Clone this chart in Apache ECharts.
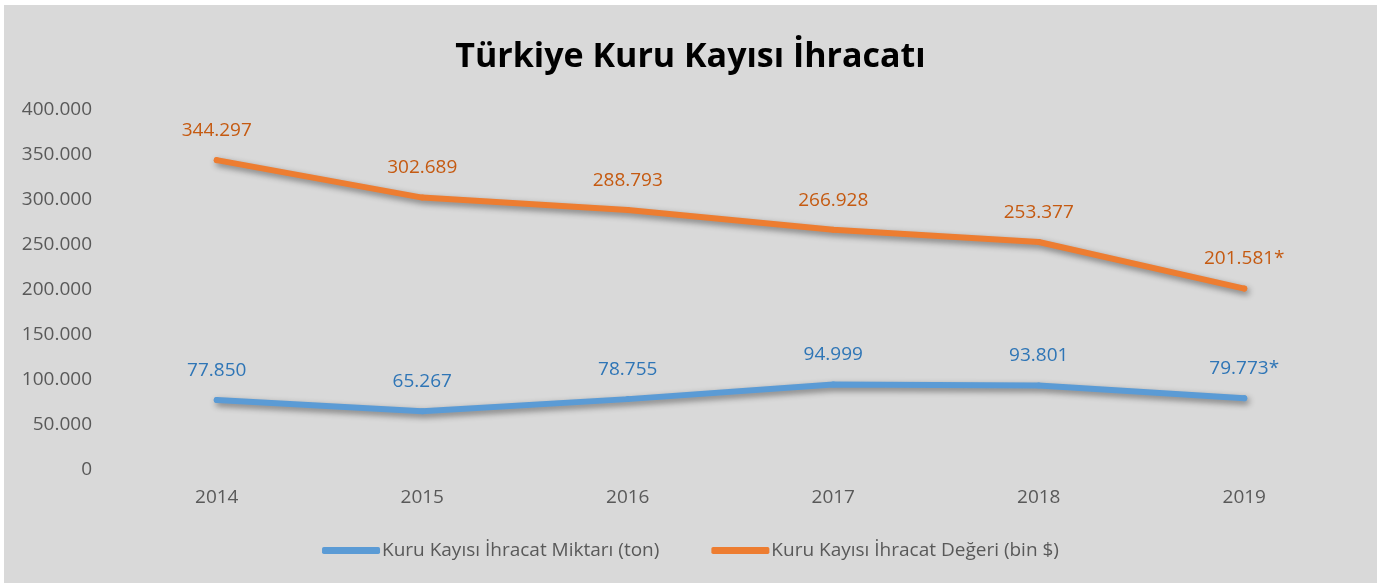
<!DOCTYPE html>
<html>
<head>
<meta charset="utf-8">
<script src="https://cdn.jsdelivr.net/npm/echarts@6/dist/echarts.min.js"></script>
<style>
  html, body { margin: 0; padding: 0; background: #ffffff; }
  #chart {
    position: absolute;
    left: 4px;
    top: 5px;
    width: 1373px;
    height: 578px;
    background: #d9d9d9;
  }
</style>
</head>
<body>
<div id="chart"></div>
<script>
  // data
  const years = ['2014', '2015', '2016', '2017', '2018', '2019'];
  const miktar = [77850, 65267, 78755, 94999, 93801, 79773];     // ton
  const deger = [344297, 302689, 288793, 266928, 253377, 201581]; // bin $
  const notes = ['', '', '', '', '', '*'];                        // 2019 provisional
  const yTicks = { min: 0, max: 400000, interval: 50000 };

  const fmt = (v) => String(v).replace(/\B(?=(\d{3})+(?!\d))/g, '.');

  const chart = echarts.init(document.getElementById('chart'));

  function lineSeries(name, data, lineColor, labelColor) {
    return {
      name: name,
      type: 'line',
      data: data,
      symbol: 'circle',
      symbolSize: 6,
      itemStyle: { color: lineColor },
      lineStyle: {
        width: 6,
        color: lineColor,
        cap: 'round',
        shadowColor: 'rgba(0,0,0,0.45)',
        shadowBlur: 6,
        shadowOffsetX: 2,
        shadowOffsetY: 3
      },
      label: {
        show: true,
        position: 'top',
        distance: 17,
        color: labelColor,
        fontFamily: 'Open Sans',
        fontSize: 19,
        formatter: (p) => fmt(p.value) + notes[p.dataIndex]
      },
      emphasis: { disabled: true }
    };
  }

  const option = {
    animation: false,
    title: {
      text: 'Türkiye Kuru Kayısı İhracatı',
      left: 'center',
      top: 30,
      textStyle: {
        fontFamily: 'Open Sans',
        fontWeight: 'bold',
        fontSize: 34,
        color: '#000000'
      }
    },
    legend: {
      bottom: 18,
      left: 'center',
      itemWidth: 58,
      itemHeight: 7,
      itemGap: 52,
      icon: 'roundRect',
      textStyle: {
        fontFamily: 'Open Sans',
        fontSize: 19,
        color: '#595959',
        padding: [0, 0, 0, -3]
      },
      data: ['Kuru Kayısı İhracat Miktarı (ton)', 'Kuru Kayısı İhracat Değeri (bin $)']
    },
    grid: {
      left: 110,
      right: 30,
      top: 105,
      bottom: 113,
      containLabel: false
    },
    xAxis: {
      type: 'category',
      data: years,
      boundaryGap: true,
      axisLine: { show: false },
      axisTick: { show: false },
      axisLabel: {
        margin: 18,
        fontFamily: 'Open Sans',
        fontSize: 19,
        color: '#595959'
      }
    },
    yAxis: {
      type: 'value',
      min: yTicks.min,
      max: yTicks.max,
      interval: yTicks.interval,
      splitLine: { show: false },
      axisLine: { show: false },
      axisTick: { show: false },
      axisLabel: {
        margin: 22,
        fontFamily: 'Open Sans',
        fontSize: 19,
        color: '#595959',
        formatter: (v) => fmt(v)
      }
    },
    series: [
      lineSeries('Kuru Kayısı İhracat Miktarı (ton)', miktar, '#5b9bd5', '#2e75b6'),
      lineSeries('Kuru Kayısı İhracat Değeri (bin $)', deger, '#ed7d31', '#c55a11')
    ]
  };

  chart.setOption(option);
</script>
</body>
</html>
